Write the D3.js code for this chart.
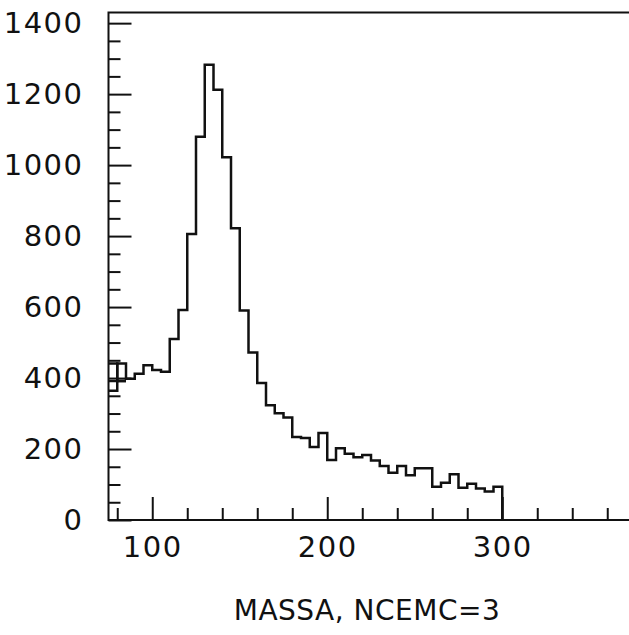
<!DOCTYPE html>
<html>
<head>
<meta charset="utf-8">
<script src="https://cdn.jsdelivr.net/npm/d3@7.9.0/dist/d3.min.js"></script>
<style>
  body { margin: 0; background: #fff; }
  svg { display: block; }
  .tick text { font-family: "DejaVu Sans", sans-serif; font-size: 29px; fill: #111; letter-spacing: 1.5px; }
  .title { font-family: "DejaVu Sans", sans-serif; font-size: 28px; fill: #111; letter-spacing: 0.5px; }
</style>
</head>
<body>
<svg id="chart" width="629" height="635"></svg>
<script>
// histogram bins, 5 units wide, left edges from 75 up to 295
const binStart = 75;
const binWidth = 5;
const counts = [
  392, 441, 398, 412, 436, 423, 418, 510, 592, 806,
  1080, 1283, 1212, 1022, 822, 590, 472, 386, 323, 301,
  289, 234, 231, 206, 245, 169, 202, 187, 177, 183,
  168, 152, 133, 152, 126, 146, 146, 94, 105, 129,
  91, 102, 89, 80, 94
];

// the doubled outline drawn over the first two bins
const ghostA = [441, 392];
const ghostB = [364, 392];

const xMajorTicks = [100, 200, 300];
const xMinorTicks = [80, 120, 140, 160, 180, 220, 240, 260, 280, 320, 340, 360];
const yMajorTicks = [0, 200, 400, 600, 800, 1000, 1200, 1400];
const yMinorTicks = d3.range(50, 1430, 50).filter(v => v % 200 !== 0);

const xLabel = 'MASSA, NCEMC=3';

const svg = d3.select('#chart');

const x = d3.scaleLinear().domain([75, 375]).range([108.5, 633.5]);
const y = d3.scaleLinear().domain([0, 1430]).range([520, 12.5]);

// frame
svg.append('rect')
  .attr('x', x(75))
  .attr('y', y(1430))
  .attr('width', x(375) - x(75))
  .attr('height', y(0) - y(1430))
  .attr('fill', 'none')
  .attr('stroke', '#111')
  .attr('stroke-width', 2);

// y axis
const yMajor = svg.append('g')
  .attr('transform', `translate(${x(75)},0)`)
  .call(d3.axisLeft(y).tickValues(yMajorTicks).tickSize(-23).tickPadding(25).tickFormat(d3.format('d')));

const yMinor = svg.append('g')
  .attr('transform', `translate(${x(75)},0)`)
  .call(d3.axisLeft(y).tickValues(yMinorTicks).tickSize(-12).tickFormat(''));

// x axis
const xMajor = svg.append('g')
  .attr('transform', `translate(0,${y(0)})`)
  .call(d3.axisBottom(x).tickValues(xMajorTicks).tickSize(-23).tickPadding(16).tickFormat(d3.format('d')));

const xMinor = svg.append('g')
  .attr('transform', `translate(0,${y(0)})`)
  .call(d3.axisBottom(x).tickValues(xMinorTicks).tickSize(-12).tickFormat(''));

[yMajor, yMinor, xMajor, xMinor].forEach(g => {
  g.select('.domain').remove();
  g.selectAll('.tick line').attr('stroke', '#111').attr('stroke-width', 2);
});

// histogram outline
function stepPoints(values) {
  const pts = values.map((v, i) => [binStart + i * binWidth, v]);
  pts.push([binStart + values.length * binWidth, values[values.length - 1]]);
  return pts;
}

const line = d3.line()
  .x(d => x(d[0]))
  .y(d => y(d[1]))
  .curve(d3.curveStepAfter);

const histPts = stepPoints(counts);
histPts.push([binStart + counts.length * binWidth, 0]);

svg.append('path')
  .attr('d', line(histPts))
  .attr('fill', 'none')
  .attr('stroke', '#111')
  .attr('stroke-width', 2.5);

[ghostA, ghostB].forEach(vals => {
  svg.append('path')
    .attr('d', line(stepPoints(vals)))
    .attr('fill', 'none')
    .attr('stroke', '#111')
    .attr('stroke-width', 2.5);
});

svg.append('text')
  .attr('class', 'title')
  .attr('x', 367)
  .attr('y', 620)
  .attr('text-anchor', 'middle')
  .text(xLabel);
</script>
</body>
</html>
